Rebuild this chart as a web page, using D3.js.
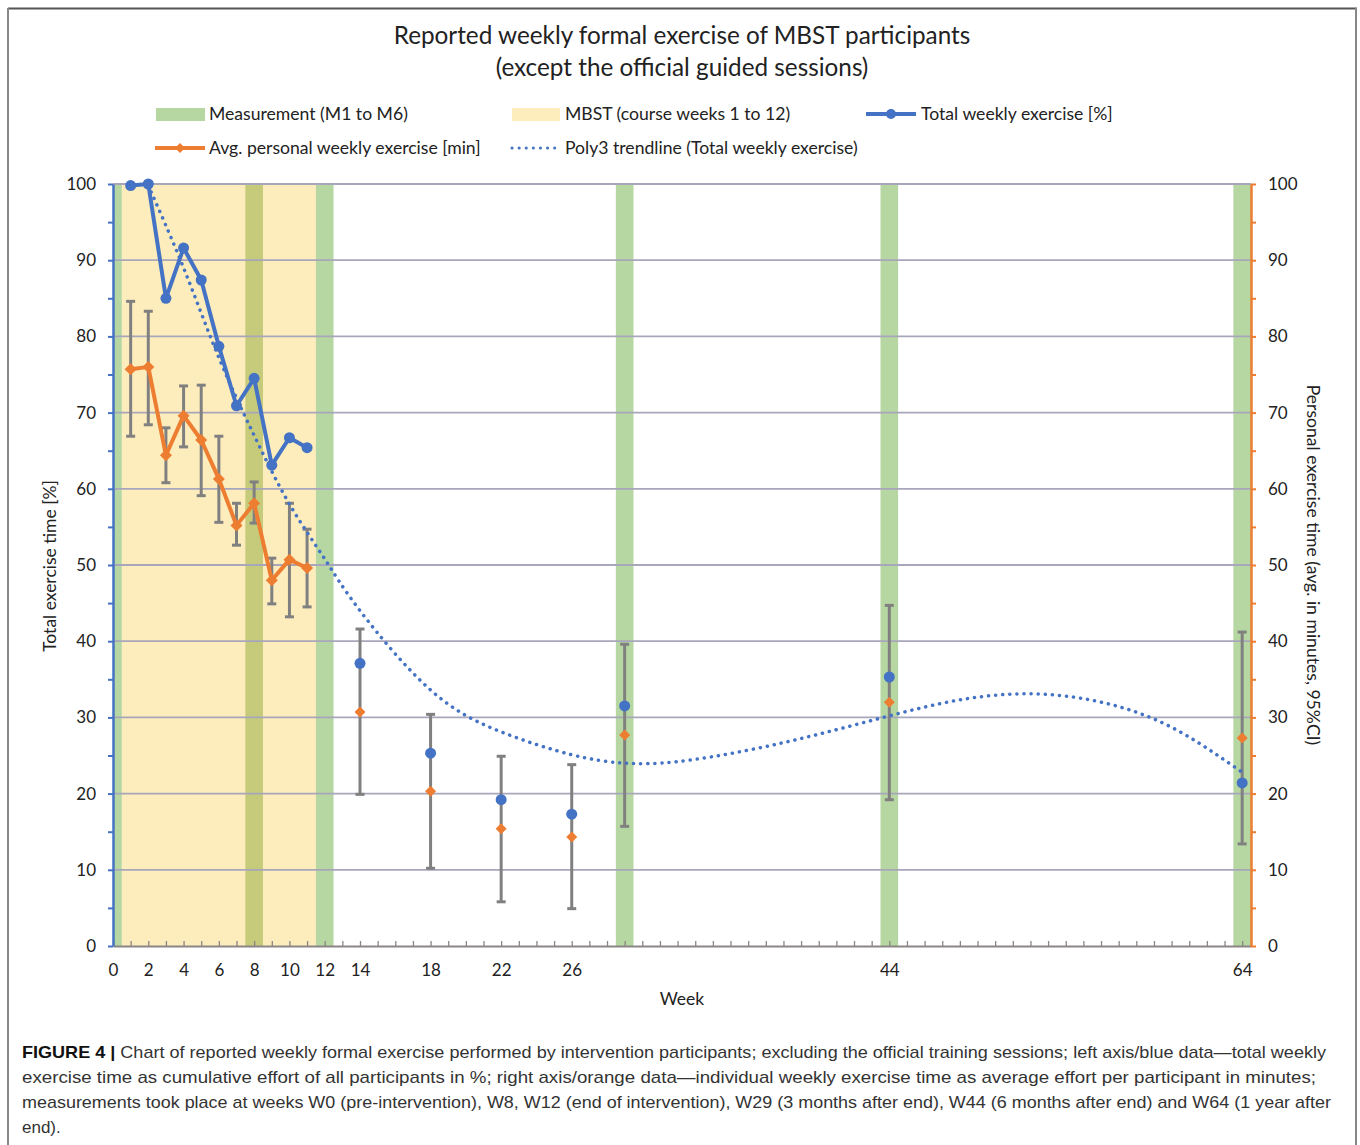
<!DOCTYPE html>
<html>
<head>
<meta charset="utf-8">
<script src="https://cdn.jsdelivr.net/npm/d3@7"></script>
<style>
  body { margin: 0; background: #fff; }
  svg { display: block; }
</style>
</head>
<body>
<div id="chart"></div>
<script>
// weeks with data (1-11 = course weeks, then follow-up weeks)
const weeks = [1, 2, 3, 4, 5, 6, 7, 8, 9, 10, 11, 14, 18, 22, 26, 29, 44, 64];
// total weekly exercise [%] (left axis, blue)
const totalPct = [99.8, 100, 85.0, 91.6, 87.4, 78.7, 70.9, 74.5, 63.1, 66.7, 65.4,
                  37.1, 25.3, 19.2, 17.3, 31.5, 35.3, 21.4];
// avg personal weekly exercise [min] (right axis, orange)
const avgMin = [75.7, 76.0, 64.4, 69.6, 66.4, 61.3, 55.2, 58.1, 48.0, 50.7, 49.6,
                30.7, 20.3, 15.4, 14.3, 27.7, 32.0, 27.3];
// 95% CI of the personal exercise
const ciLow = [66.9, 68.4, 60.8, 65.5, 59.1, 55.6, 52.6, 55.5, 44.9, 43.2, 44.5,
               19.9, 10.2, 5.8, 4.9, 15.7, 19.2, 13.4];
const ciHigh = [84.6, 83.3, 68.0, 73.5, 73.6, 66.9, 58.1, 60.9, 50.9, 58.1, 54.7,
                41.6, 30.4, 24.9, 23.8, 39.6, 44.7, 41.2];
// poly3 trendline
const trendWeeks = [2, 4, 6, 8, 10, 12, 14, 18, 22, 26, 29, 32, 36, 40, 44, 48, 52, 56, 60, 64];
const trendVals = [99.8, 89.0, 77.2, 67.0, 58.0, 50.8, 44.0, 33.6, 28.1, 25.1, 24.0, 24.2,
                   25.7, 27.8, 30.2, 32.3, 33.1, 32.0, 28.7, 22.8];
// measurement weeks (M1 to M6) and course weeks
const measureWeeks = [0, 8, 12, 29, 44, 64];
const courseStart = 1, courseEnd = 11;
// tick labels
const weekLabels = [0, 2, 4, 6, 8, 10, 12, 14, 18, 22, 26, 44, 64];
const yTicks = [0, 10, 20, 30, 40, 50, 60, 70, 80, 90, 100];

const blue = "#4472C4", orange = "#ED7D31", grey = "#808080";
const green = "#b6d7a1", yellow = "#fdecbc", olive = "#c6cb7b";
const font = "Lato, 'Open Sans', sans-serif";

const W = 1360, H = 1145;
const svg = d3.select("#chart").append("svg")
    .attr("width", W).attr("height", H);

// frame
svg.append("line").attr("x1", 8).attr("x2", 1357).attr("y1", 8.5).attr("y2", 8.5)
    .attr("stroke", "#555").attr("stroke-width", 2);
svg.append("line").attr("x1", 8).attr("x2", 8).attr("y1", 8).attr("y2", H)
    .attr("stroke", "#888").attr("stroke-width", 2);
svg.append("line").attr("x1", 1356).attr("x2", 1356).attr("y1", 8).attr("y2", H)
    .attr("stroke", "#888").attr("stroke-width", 2);

const x = d3.scaleLinear().domain([0, 64.5]).range([113, 1251]);
const y = d3.scaleLinear().domain([0, 100]).range([946, 184]);
const yR = d3.scaleLinear().domain([0, 100]).range([946, 184]);

// title
svg.append("text")
    .attr("x", 682).attr("y", 44)
    .attr("text-anchor", "middle")
    .attr("font-family", font).attr("font-size", 24.3).attr("fill", "#222")
    .text("Reported weekly formal exercise of MBST participants");
svg.append("text")
    .attr("x", 682).attr("y", 76)
    .attr("text-anchor", "middle")
    .attr("font-family", font).attr("font-size", 24.3).attr("fill", "#222")
    .text("(except the official guided sessions)");

// background bands
svg.append("rect")
    .attr("x", x(courseStart - 0.5)).attr("y", y(100))
    .attr("width", x(courseEnd + 0.5) - x(courseStart - 0.5))
    .attr("height", y(0) - y(100))
    .attr("fill", yellow);

svg.selectAll(".band").data(measureWeeks).join("rect")
    .attr("class", "band")
    .attr("x", d => x(Math.max(0, d - 0.5)))
    .attr("y", y(100))
    .attr("width", d => x(Math.min(64.5, d + 0.5)) - x(Math.max(0, d - 0.5)))
    .attr("height", y(0) - y(100))
    .attr("fill", d => (d > courseStart - 0.5 && d < courseEnd + 0.5) ? olive : green);

// gridlines
svg.append("g").selectAll("line").data(yTicks.filter(d => d > 0)).join("line")
    .attr("x1", x(0)).attr("x2", x(64.5))
    .attr("y1", d => y(d)).attr("y2", d => y(d))
    .attr("stroke", "#a8a6bb").attr("stroke-width", 1.8);

// x axis
const xAxis = svg.append("g")
    .attr("transform", `translate(0,${y(0)})`)
    .call(d3.axisBottom(x)
        .tickValues(d3.range(0, 65))
        .tickSizeInner(-5).tickSizeOuter(0)
        .tickPadding(18)
        .tickFormat(d => weekLabels.includes(d) ? d : ""));
xAxis.select(".domain").attr("stroke", "#8c8585").attr("stroke-width", 2);
xAxis.selectAll(".tick line").attr("stroke", "#8c8585").attr("stroke-width", 1.3);
xAxis.selectAll("text").attr("font-family", font).attr("font-size", 17).attr("fill", "#222");

// left axis
const yAxis = svg.append("g")
    .attr("transform", `translate(${x(0)},0)`)
    .call(d3.axisLeft(y)
        .tickValues(d3.range(0, 101, 5))
        .tickSizeInner(5).tickSizeOuter(0)
        .tickPadding(12)
        .tickFormat(d => d % 10 === 0 ? d : ""));
yAxis.select(".domain").attr("stroke", blue).attr("stroke-width", 2.5);
yAxis.selectAll(".tick line").attr("stroke", blue).attr("stroke-width", 2);
yAxis.selectAll("text").attr("font-family", font).attr("font-size", 17).attr("fill", "#222");

// right axis
const yAxisR = svg.append("g")
    .attr("transform", `translate(${x(64.5)},0)`)
    .call(d3.axisRight(yR)
        .tickValues(d3.range(0, 101, 5))
        .tickSizeInner(5).tickSizeOuter(0)
        .tickPadding(12)
        .tickFormat(d => d % 10 === 0 ? d : ""));
yAxisR.select(".domain").attr("stroke", orange).attr("stroke-width", 2.5);
yAxisR.selectAll(".tick line").attr("stroke", orange).attr("stroke-width", 2);
yAxisR.selectAll("text").attr("font-family", font).attr("font-size", 17).attr("fill", "#222");

// axis titles
svg.append("text")
    .attr("transform", "translate(56,566) rotate(-90)")
    .attr("text-anchor", "middle")
    .attr("font-family", font).attr("font-size", 17.5).attr("fill", "#222")
    .text("Total exercise time [%]");
svg.append("text")
    .attr("transform", "translate(1307,565) rotate(90)")
    .attr("text-anchor", "middle")
    .attr("font-family", font).attr("font-size", 17.6).attr("fill", "#222")
    .text("Personal exercise time (avg. in minutes, 95%CI)");
svg.append("text")
    .attr("x", 682).attr("y", 1005)
    .attr("text-anchor", "middle")
    .attr("font-family", font).attr("font-size", 17.5).attr("fill", "#222")
    .text("Week");

const data = weeks.map((w, i) => ({
    week: w, total: totalPct[i], avg: avgMin[i], lo: ciLow[i], hi: ciHigh[i]
}));
const course = data.filter(d => d.week >= courseStart && d.week <= courseEnd);

// error bars
const eb = svg.append("g").attr("stroke", grey).attr("stroke-width", 3);
eb.selectAll(".v").data(data).join("line")
    .attr("x1", d => x(d.week)).attr("x2", d => x(d.week))
    .attr("y1", d => yR(d.lo)).attr("y2", d => yR(d.hi));
eb.selectAll(".lo").data(data).join("line")
    .attr("x1", d => x(d.week) - 4.5).attr("x2", d => x(d.week) + 4.5)
    .attr("y1", d => yR(d.lo)).attr("y2", d => yR(d.lo));
eb.selectAll(".hi").data(data).join("line")
    .attr("x1", d => x(d.week) - 4.5).attr("x2", d => x(d.week) + 4.5)
    .attr("y1", d => yR(d.hi)).attr("y2", d => yR(d.hi));

// trendline
const trend = trendWeeks.map((w, i) => ({ week: w, v: trendVals[i] }));
svg.append("path")
    .datum(trend)
    .attr("fill", "none")
    .attr("stroke", blue)
    .attr("stroke-width", 3.5)
    .attr("stroke-linecap", "round")
    .attr("stroke-dasharray", "0.1 7")
    .attr("d", d3.line().x(d => x(d.week)).y(d => y(d.v)).curve(d3.curveNatural));

// orange line + diamonds
const diamond = s => `M0,${-s}L${s},0L0,${s}L${-s},0Z`;
svg.append("path")
    .datum(course)
    .attr("fill", "none").attr("stroke", orange).attr("stroke-width", 4)
    .attr("stroke-linejoin", "round")
    .attr("d", d3.line().x(d => x(d.week)).y(d => yR(d.avg)));
svg.selectAll(".dia").data(data).join("path")
    .attr("transform", d => `translate(${x(d.week)},${yR(d.avg)})`)
    .attr("d", d => diamond(d.week <= courseEnd ? 6 : 5.5))
    .attr("fill", orange);

// blue line + circles
svg.append("path")
    .datum(course)
    .attr("fill", "none").attr("stroke", blue).attr("stroke-width", 4)
    .attr("stroke-linejoin", "round")
    .attr("d", d3.line().x(d => x(d.week)).y(d => y(d.total)));
svg.selectAll(".dot").data(data).join("circle")
    .attr("cx", d => x(d.week)).attr("cy", d => y(d.total))
    .attr("r", 5.5).attr("fill", blue);

// legend
const lg = svg.append("g").attr("font-family", font).attr("font-size", 17.6).attr("fill", "#222");
lg.append("rect").attr("x", 156).attr("y", 108).attr("width", 49).attr("height", 13).attr("fill", green);
lg.append("text").attr("x", 209).attr("y", 120).text("Measurement (M1 to M6)");
lg.append("rect").attr("x", 512).attr("y", 108).attr("width", 48).attr("height", 13).attr("fill", yellow);
lg.append("text").attr("x", 565).attr("y", 120).text("MBST (course weeks 1 to 12)");
lg.append("line").attr("x1", 866).attr("x2", 916).attr("y1", 114).attr("y2", 114)
    .attr("stroke", blue).attr("stroke-width", 4);
lg.append("circle").attr("cx", 891).attr("cy", 114).attr("r", 5).attr("fill", blue);
lg.append("text").attr("x", 921).attr("y", 120).text("Total weekly exercise [%]");
lg.append("line").attr("x1", 155).attr("x2", 205).attr("y1", 148).attr("y2", 148)
    .attr("stroke", orange).attr("stroke-width", 4);
lg.append("path").attr("transform", "translate(180,148)").attr("d", diamond(5)).attr("fill", orange);
lg.append("text").attr("x", 209).attr("y", 154).text("Avg. personal weekly exercise [min]");
lg.append("line").attr("x1", 512).attr("x2", 560).attr("y1", 148).attr("y2", 148)
    .attr("stroke", blue).attr("stroke-width", 3).attr("stroke-linecap", "round")
    .attr("stroke-dasharray", "0.1 7");
lg.append("text").attr("x", 565).attr("y", 154).text("Poly3 trendline (Total weekly exercise)");

// caption
const capLines = [
    ["Chart of reported weekly formal exercise performed by intervention participants; excluding the official training sessions; left axis/blue data\u2014total weekly", 1326],
    ["exercise time as cumulative effort of all participants in %; right axis/orange data\u2014individual weekly exercise time as average effort per participant in minutes;", 1316],
    ["measurements took place at weeks W0 (pre-intervention), W8, W12 (end of intervention), W29 (3 months after end), W44 (6 months after end) and W64 (1 year after", 1331],
    ["end).", null]
];
const cap = svg.append("g")
    .attr("font-family", "'Liberation Sans', Arial, sans-serif")
    .attr("font-size", 17).attr("fill", "#333");
capLines.forEach((l, i) => {
    const t = cap.append("text").attr("x", 22).attr("y", 1058 + i * 25);
    if (i === 0) {
        t.append("tspan").attr("font-weight", "bold").attr("fill", "#111").text("FIGURE 4 | ");
    }
    t.append("tspan").text(l[0]);
    if (l[1]) {
        t.attr("textLength", l[1] - 22).attr("lengthAdjust", "spacingAndGlyphs");
    }
});
</script>
</body>
</html>
